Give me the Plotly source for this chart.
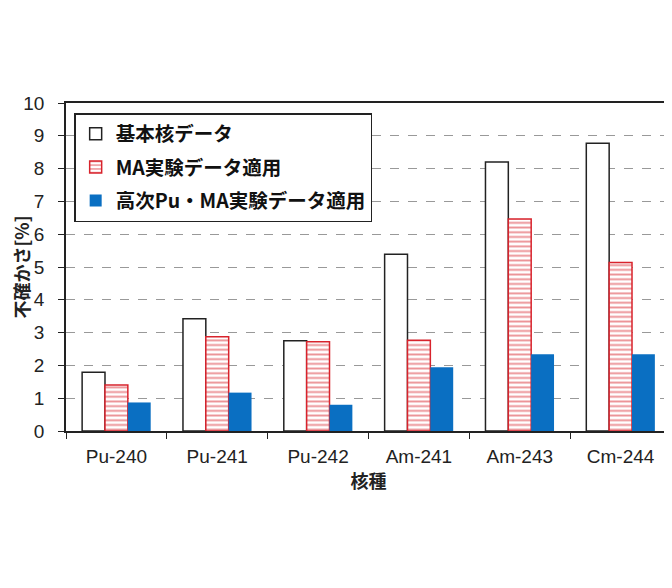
import plotly.graph_objects as go

categories = ["Pu-240", "Pu-241", "Pu-242", "Am-241", "Am-243", "Cm-244"]
base_vals = [1.79, 3.42, 2.75, 5.39, 8.20, 8.77]
ma_vals = [1.40, 2.87, 2.72, 2.77, 6.46, 5.14]
pu_ma_vals = [0.87, 1.17, 0.80, 1.94, 2.34, 2.34]
series_names = ["基本核データ", "MA実験データ適用", "高次Pu・MA実験データ適用"]
y_ticks = list(range(0, 11))

FONT = "Liberation Sans, Arial, Noto Sans CJK JP, sans-serif"
CJK = "Noto Sans CJK JP, Liberation Sans, sans-serif"

fig = go.Figure()
fig.add_trace(go.Bar(
    x=categories, y=base_vals, name=series_names[0], legendgroup="a",
    marker=dict(color="white", line=dict(color="#222222", width=1.5)),
))
fig.add_trace(go.Bar(
    x=categories, y=ma_vals, name=series_names[1], legendgroup="b",
    marker=dict(color="white", line=dict(color="#d8232c", width=1.5),
                pattern=dict(shape="-", fgcolor="#d8232c", bgcolor="white",
                             size=4.7, solidity=0.4)),
))
fig.add_trace(go.Bar(
    x=categories, y=pu_ma_vals, name=series_names[2], legendgroup="c",
    marker=dict(color="#0a6fc2", line=dict(color="#0a6fc2", width=0)),
))

fig.update_layout(
    width=664, height=580,
    margin=dict(l=58, r=1, t=95, b=157),
    paper_bgcolor="white", plot_bgcolor="white",
    barmode="group", bargap=0.32, bargroupgap=0,
    font=dict(family=FONT, size=19, color="#222222"),
    showlegend=True,
    legend=dict(
        x=0.0135, y=0.9695, xanchor="left", yanchor="top",
        bgcolor="white", bordercolor="#222222", borderwidth=1.5,
        font=dict(family=CJK, size=19.5, color="#111111", weight="bold"),
        tracegroupgap=5, itemwidth=30,
    ),
)
fig.update_xaxes(
    title=dict(text="核種", font=dict(family=CJK, size=18, weight="bold"), standoff=9),
    automargin=False,
    showline=True, linecolor="#222222", linewidth=1.5, mirror=True,
    ticks="outside", ticklen=6, tickcolor="#222222", tickson="boundaries",
    ticklabelstandoff=7,
    tickfont=dict(family=FONT, size=19, color="#222222"),
    showgrid=False,
)
fig.update_yaxes(
    title=dict(text="不確かさ[%]", font=dict(family=CJK, size=18, weight="bold"), standoff=8),
    automargin=False,
    range=[0, 10], tickvals=y_ticks,
    showline=True, linecolor="#222222", linewidth=1.5, mirror=True,
    ticks="outside", ticklen=6, tickcolor="#222222",
    ticklabelstandoff=10,
    tickfont=dict(family=FONT, size=19, color="#222222"),
    showgrid=True, gridcolor="#999999", gridwidth=1, griddash="dash",
    zeroline=False,
)

fig.write_html("out.html")
